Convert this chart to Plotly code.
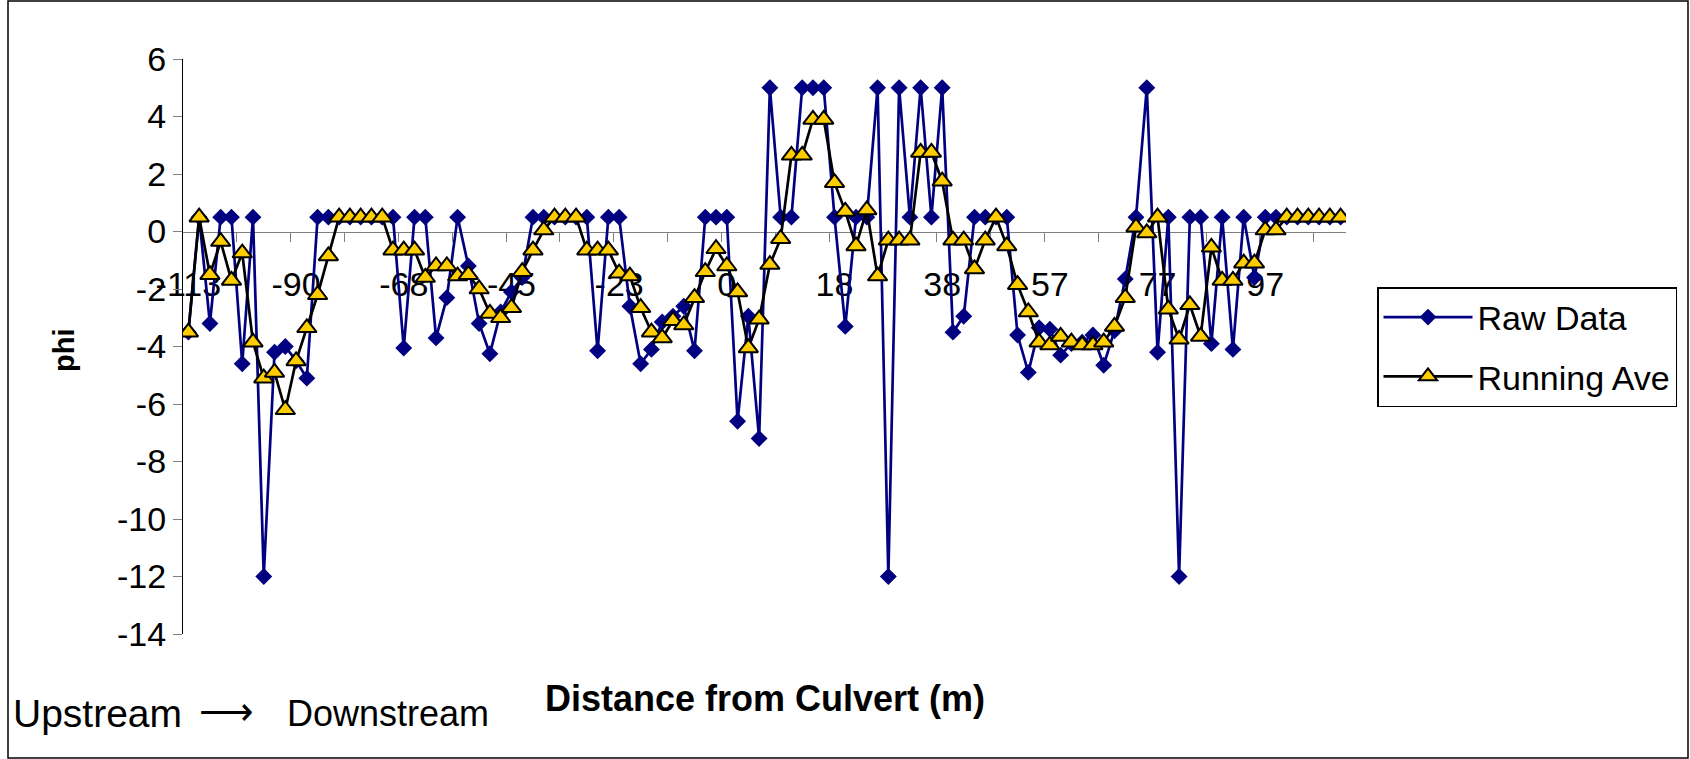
import plotly.graph_objects as go

# ---- data ----
raw_data = [
    -3.5, 0.5, -3.2, 0.5, 0.5, -4.6, 0.5, -12, -4.2, -4.0,
    -4.5, -5.1, 0.5, 0.5, 0.5, 0.5, 0.5, 0.5, 0.5, 0.5,
    -4.05, 0.5, 0.5, -3.7, -2.3, 0.5, -1.2, -3.2, -4.25, -2.8,
    -2.1, -1.6, 0.5, 0.5, 0.5, 0.5, 0.5, 0.5, -4.15, 0.5,
    0.5, -2.6, -4.6, -4.1, -3.15, -2.95, -2.6, -4.15, 0.5, 0.5,
    0.5, -6.6, -2.95, -7.2, 5, 0.5, 0.5, 5, 5, 5,
    0.5, -3.3, 0.5, 0.5, 5, -12, 5, 0.5, 5, 0.5,
    5, -3.5, -2.95, 0.5, 0.5, 0.5, 0.5, -3.6, -4.9, -3.35,
    -3.4, -4.3, -3.9, -3.85, -3.6, -4.65, -3.45, -1.65, 0.5, 5,
    -4.2, 0.5, -12, 0.5, 0.5, -3.9, 0.5, -4.1, 0.5, -1.6,
    0.5, 0.5, 0.5, 0.5, 0.5, 0.5, 0.5, 0.5,
]
running_ave = [
    -3.5, 0.5, -1.5, -0.35, -1.7, -0.75, -3.85, -5.1, -4.9, -6.2,
    -4.5, -3.35, -2.2, -0.85, 0.5, 0.5, 0.5, 0.5, 0.5, -0.65,
    -0.65, -0.65, -1.6, -1.2, -1.2, -1.55, -1.5, -2.0, -2.85, -3.0,
    -2.65, -1.4, -0.65, 0.05, 0.5, 0.5, 0.5, -0.65, -0.65, -0.65,
    -1.45, -1.55, -2.65, -3.5, -3.7, -3.1, -3.25, -2.3, -1.4, -0.6,
    -1.2, -2.1, -4.05, -3.05, -1.15, -0.25, 2.65, 2.65, 3.9, 3.9,
    1.7, 0.7, -0.5, 0.75, -1.55, -0.3, -0.3, -0.3, 2.75, 2.75,
    1.75, -0.3, -0.3, -1.3, -0.3, 0.5, -0.5, -1.85, -2.8, -3.85,
    -3.95, -3.65, -3.85, -3.95, -3.95, -3.85, -3.3, -2.3, 0.15, -0.05,
    0.5, -2.7, -3.75, -2.55, -3.65, -0.55, -1.7, -1.7, -1.1, -1.1,
    0.05, 0.05, 0.5, 0.5, 0.5, 0.5, 0.5, 0.5,
]
tick_labels = ["-113", "-90", "-68", "-45", "-23", "0", "18", "38", "57", "77", "97"]
y_ticks = [6, 4, 2, 0, -2, -4, -6, -8, -10, -12, -14]
label_step = 10      # one label every 10 categories
tick_step = 5        # a tick mark every 5 categories

n = len(raw_data)
cats = list(range(n))
label_pos = [i * label_step for i in range(len(tick_labels))]
tick_pos = [k * tick_step - 0.5 for k in range(1, n // tick_step + 1)]

# ---- geometry ----
W, H = 1690, 759
ML, MR, MT, MB = 183, 344, 59, 125
PW, PH = W - ML - MR, H - MT - MB


def px(x):
    return (x - ML) / PW


def py(y):
    return (H - MB - y) / PH


FONT = "Arial, Liberation Sans, Helvetica, sans-serif"

fig = go.Figure()
fig.add_trace(go.Scatter(
    x=cats, y=raw_data, name="Raw Data", mode="lines+markers",
    line=dict(color="#000080", width=2.7),
    marker=dict(symbol="diamond", size=13, color="#000080"),
    legendgroup="a",
))
fig.add_trace(go.Scatter(
    x=cats, y=running_ave, name="Running Ave", mode="lines+markers",
    line=dict(color="#000000", width=2.7),
    marker=dict(symbol="triangle-up", size=17, color="#FFCC00",
                line=dict(color="#000000", width=2)),
    legendgroup="b",
))

fig.update_layout(
    width=W, height=H,
    margin=dict(l=ML, r=MR, t=MT, b=MB, pad=0),
    paper_bgcolor="white", plot_bgcolor="white",
    font=dict(family=FONT, size=34, color="black"),
    showlegend=True,
    legend=dict(
        xref="container", yref="container",
        x=1377 / W, y=1 - 287 / H, xanchor="left", yanchor="top",
        bordercolor="black", borderwidth=1.5, bgcolor="white",
        font=dict(family=FONT, size=34, color="black"),
        itemwidth=89, tracegroupgap=12,
    ),
    xaxis=dict(
        range=[-0.5, n - 0.5], anchor="free", position=14 / 20,
        showgrid=False, zeroline=False,
        showline=True, linecolor="#808080", linewidth=1.2,
        tickmode="array", tickvals=label_pos, ticktext=tick_labels,
        ticks="", ticklabelstandoff=23,
        tickfont=dict(family=FONT, size=34, color="black"),
        minor=dict(tickvals=tick_pos, ticks="outside", ticklen=9,
                   tickcolor="#808080", tickwidth=1.2, showgrid=False),
        layer="below traces",
    ),
    yaxis=dict(
        range=[-14, 6], tickmode="array", tickvals=y_ticks,
        ticktext=[str(v) for v in y_ticks],
        showgrid=False, zeroline=False,
        showline=True, linecolor="black", linewidth=1.2,
        ticks="outside", ticklen=9, tickcolor="#808080", tickwidth=1.2,
        tickfont=dict(family=FONT, size=34, color="black"),
        layer="below traces",
    ),
)

fig.add_annotation(
    xref="paper", yref="paper", x=0.5, y=py(698),
    text="Distance from Culvert (m)", showarrow=False,
    xanchor="center", yanchor="middle",
    font=dict(family=FONT, size=36, color="black", weight="bold"),
)
fig.add_annotation(
    xref="paper", yref="paper", x=px(64), y=py(350),
    text="phi", showarrow=False, textangle=-90,
    xanchor="center", yanchor="middle",
    font=dict(family=FONT, size=29, color="black", weight="bold"),
)
fig.add_annotation(
    xref="paper", yref="paper", x=px(11), y=py(713),
    text="Upstream", showarrow=False,
    xanchor="left", yanchor="middle",
    font=dict(family=FONT, size=39, color="black"),
)
fig.add_annotation(
    xref="paper", yref="paper", x=px(226), y=py(711),
    text="\u27f6", showarrow=False,
    xanchor="center", yanchor="middle",
    font=dict(family=FONT, size=38, color="black"),
)
fig.add_annotation(
    xref="paper", yref="paper", x=px(285), y=py(713),
    text="Downstream", showarrow=False,
    xanchor="left", yanchor="middle",
    font=dict(family=FONT, size=36, color="black"),
)
fig.add_shape(
    type="rect", xref="paper", yref="paper",
    x0=px(8), x1=px(1688), y0=py(758), y1=py(1),
    line=dict(color="black", width=1.5), fillcolor="rgba(0,0,0,0)",
    layer="below",
)

fig.write_html(
    "out.html",
    config={"displayModeBar": False},
    post_script="document.body.style.margin='0';document.body.style.overflow='hidden';",
)
